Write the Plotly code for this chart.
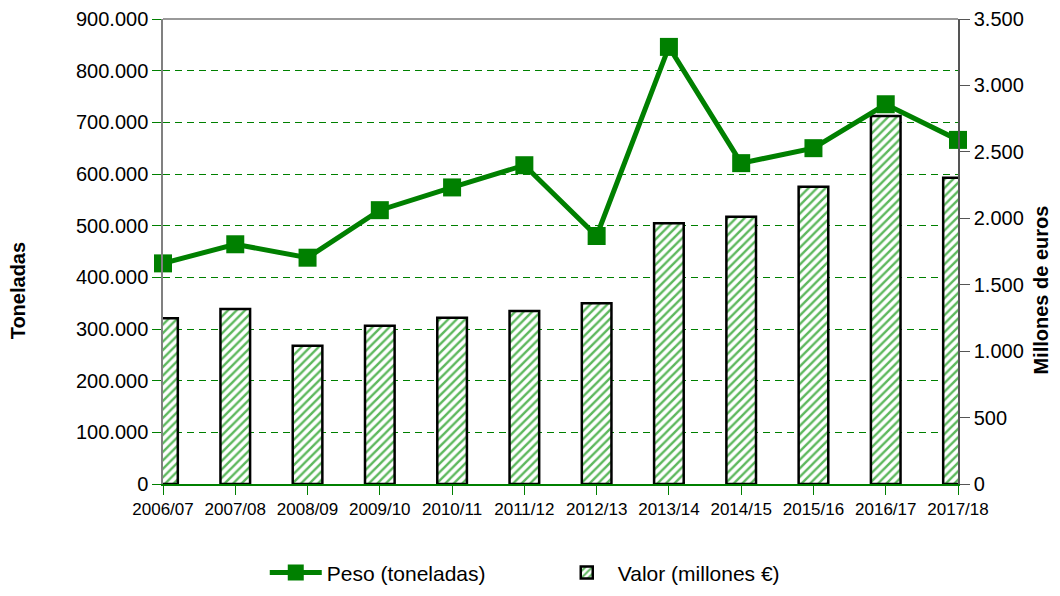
import plotly.graph_objects as go

campanas = ["2006/07", "2007/08", "2008/09", "2009/10", "2010/11", "2011/12",
            "2012/13", "2013/14", "2014/15", "2015/16", "2016/17", "2017/18"]
peso_toneladas = [427000, 464000, 438000, 530000, 574000, 617000,
                  480000, 846000, 621000, 650000, 735000, 666000]
valor_millones = [1247, 1317, 1041, 1191, 1252, 1302,
                  1360, 1962, 2012, 2238, 2770, 2305]

GREEN = "#008000"
FONT = "Liberation Sans, Arial, sans-serif"

fig = go.Figure()

# bars on the primary (right-hand) axis so the line is drawn on top
fig.add_trace(
    go.Bar(
        x=campanas,
        y=valor_millones,
        name="Valor (millones €)",
        width=0.41,
        marker=dict(
            color="white",
            line=dict(color="black", width=2.5),
            pattern=dict(shape="/", fgcolor="#5DB85D", bgcolor="white",
                         size=6, solidity=0.4, fgopacity=1),
        ),
        yaxis="y",
    )
)

fig.add_trace(
    go.Scatter(
        x=campanas,
        y=peso_toneladas,
        name="Peso (toneladas)",
        mode="lines+markers",
        line=dict(color=GREEN, width=5),
        marker=dict(symbol="square", size=18, color=GREEN),
        cliponaxis=False,
        yaxis="y2",
    )
)

# the page body keeps its 8px margin, so the figure is a bit smaller than the window
fig.update_layout(
    width=1044,
    height=580,
    separators=",.",
    plot_bgcolor="white",
    paper_bgcolor="white",
    font=dict(family=FONT, color="black"),
    margin=dict(l=155, r=94, t=11, b=104),
    xaxis=dict(
        type="category",
        range=[0, 11],
        automargin=False,
        showgrid=False,
        showline=True,
        linecolor=GREEN,
        linewidth=2,
        ticks="outside",
        tickcolor=GREEN,
        ticklen=9,
        tickfont=dict(size=17),
        zeroline=False,
    ),
    yaxis=dict(
        side="right",
        range=[0, 3500],
        dtick=500,
        tickformat=",d",
        automargin=False,
        showgrid=False,
        zeroline=False,
        showline=True,
        linecolor="#555555",
        linewidth=1.5,
        ticks="outside",
        tickcolor="#555555",
        ticklen=10,
        tickfont=dict(size=20),
    ),
    yaxis2=dict(
        side="left",
        overlaying="y",
        range=[0, 900000],
        dtick=100000,
        tickformat=",d",
        automargin=False,
        showgrid=True,
        gridcolor=GREEN,
        gridwidth=1,
        griddash="7px,5px",
        zeroline=False,
        showline=True,
        linecolor="#808080",
        linewidth=1.5,
        ticks="outside",
        tickcolor=GREEN,
        ticklen=9,
        tickfont=dict(size=20),
    ),
    legend=dict(
        orientation="h",
        x=0.128,
        xanchor="left",
        xref="paper",
        y=0.026,
        yanchor="middle",
        yref="container",
        traceorder="reversed",
        font=dict(size=21),
        entrywidth=224,
        itemwidth=52,
    ),
    showlegend=True,
)

# top border of the plot area
fig.add_shape(type="line", xref="paper", yref="paper", x0=0, x1=1, y0=1, y1=1,
              line=dict(color="#999999", width=2), layer="below")

fig.add_annotation(text="<b>Toneladas</b>", xref="paper", yref="paper",
                   x=-0.182, y=0.415, xanchor="center", yanchor="middle",
                   textangle=-90, showarrow=False, font=dict(size=20))
fig.add_annotation(text="<b>Millones de euros</b>", xref="paper", yref="paper",
                   x=1.105, y=0.417, xanchor="center", yanchor="middle",
                   textangle=-90, showarrow=False, font=dict(size=20))

fig.write_html("out.html")
